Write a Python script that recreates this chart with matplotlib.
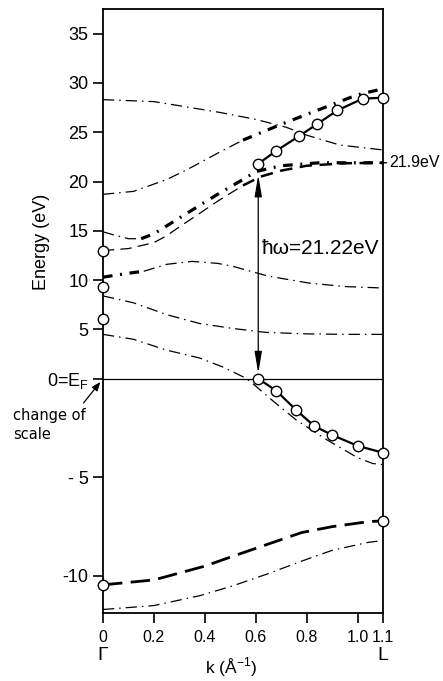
"""Cu band structure along Gamma-L with photoemission points (change of scale at E_F)"""

import numpy as np
import matplotlib
matplotlib.use("Agg")
import matplotlib.pyplot as plt
from matplotlib import font_manager

names = {f.name for f in font_manager.fontManager.ttflist}
FONT = "Liberation Sans Narrow" if "Liberation Sans Narrow" in names else "Liberation Sans"
plt.rcParams["font.family"] = [FONT, "DejaVu Sans"]

# ── data (k in 1/Å, E in eV) ──
k_d1 = [0, 0.2, 0.32, 0.46, 0.6, 0.72, 0.8, 0.93, 1.1]
e_d1 = [28.3, 28.1, 27.6, 27.0, 26.3, 25.5, 24.7, 23.7, 23.2]

k_a = [0, 0.12, 0.25, 0.33, 0.46, 0.55, 0.7, 0.8, 0.9, 1.0, 1.1]
e_a = [18.7, 19.0, 20.2, 21.2, 23.0, 24.2, 25.8, 26.8, 27.8, 28.8, 29.4]

k_b = [0, 0.04, 0.1, 0.15, 0.2, 0.25, 0.3, 0.35, 0.4, 0.45, 0.55, 0.6, 0.7, 0.85, 1.1]
e_b = [14.9, 14.6, 14.2, 14.2, 14.7, 15.5, 16.3, 17.1, 17.9, 18.7, 20.2, 21.0, 21.6, 21.9, 21.9]

k_c = [0, 0.1, 0.2, 0.25, 0.3, 0.37, 0.45, 0.55, 0.62, 0.7, 0.8, 0.95, 1.1]
e_c = [13.0, 13.2, 13.8, 14.5, 15.4, 16.6, 18.0, 19.6, 20.5, 21.1, 21.6, 21.85, 21.9]

k_d = [0, 0.1, 0.16, 0.25, 0.35, 0.45, 0.51, 0.65, 0.81, 0.95, 1.1]
e_d = [10.3, 10.7, 10.9, 11.6, 11.9, 11.7, 11.4, 10.4, 9.7, 9.35, 9.2]

k_e = [0, 0.12, 0.25, 0.38, 0.51, 0.64, 0.8, 0.95, 1.1]
e_e = [8.4, 7.7, 6.5, 5.6, 5.1, 4.7, 4.55, 4.5, 4.5]

k_f = [0, 0.12, 0.25, 0.38, 0.47, 0.55, 0.58, 0.67, 0.76, 0.88, 1.0, 1.06, 1.1]
e_f = [4.5, 4.0, 2.9, 2.1, 1.2, 0.2, -0.15, -1.15, -2.1, -3.1, -4.0, -4.3, -4.35]

k_g = [0, 0.2, 0.4, 0.51, 0.645, 0.78, 0.9, 1.04, 1.1]
e_g = [-10.45, -10.2, -9.5, -9.0, -8.4, -7.8, -7.5, -7.25, -7.2]

k_h = [0, 0.2, 0.38, 0.51, 0.645, 0.78, 0.9, 1.04, 1.1]
e_h = [-11.7, -11.5, -11.0, -10.5, -9.9, -9.25, -8.7, -8.3, -8.2]

# experimental points
k_exp_hi = [0.61, 0.68, 0.77, 0.84, 0.92, 1.02, 1.1]
e_exp_hi = [21.8, 23.1, 24.6, 25.8, 27.2, 28.4, 28.5]
k_exp_lo = [0.61, 0.68, 0.76, 0.83, 0.9, 1.0, 1.1]
e_exp_lo = [0.0, -0.6, -1.6, -2.4, -2.85, -3.4, -3.75]
e_gamma = [13.0, 9.3, 6.1, -10.45]
e_L = [-7.2]

hw = 21.22
e_final = 21.9
k_arrow = 0.61

yticks = [35, 30, 25, 20, 15, 10, 5, 0, -5, -10]
ytick_labels = ["35", "30", "25", "20", "15", "10", "5",
                r"0=E$_\mathregular{F}$", "- 5", "-10"]
xticks = [0, 0.2, 0.4, 0.6, 0.8, 1.0, 1.1]
xtick_labels = ["0", "0.2", "0.4", "0.6", "0.8", "1.0", "1.1"]


def sc(e):
    # change of scale: below E_F the energy axis is stretched x2
    e = np.asarray(e, float)
    return np.where(e < 0, 2 * e, e)


def part(k, e, lo, hi):
    k = np.asarray(k, float)
    m = (k >= lo) & (k <= hi)
    return k[m], sc(np.asarray(e)[m])


DD_THIN = (0, (9, 4, 1.2, 4))
DD_THICK = (0, (3, 2.4, 0.6, 2.4))

fig = plt.figure(figsize=(4.43, 6.81), dpi=100)
ax = fig.add_axes([0.2325, 0.0999, 0.632, 0.887])

ax.plot(k_d1, sc(e_d1), color="k", lw=0.9, ls=DD_THIN)
ax.plot(*part(k_a, e_a, 0, 0.55), color="k", lw=0.9, ls=DD_THIN)
ax.plot(*part(k_a, e_a, 0.55, 1.1), color="k", lw=2.3, ls=DD_THICK)
ax.plot(*part(k_b, e_b, 0, 0.15), color="k", lw=0.9, ls=DD_THIN)
ax.plot(*part(k_b, e_b, 0.15, 1.1), color="k", lw=2.3, ls=DD_THICK)
ax.plot(*part(k_c, e_c, 0, 0.55), color="k", lw=0.9, ls=(0, (9, 5)))
ax.plot(*part(k_c, e_c, 0.55, 1.1), color="k", lw=1.8, ls=(0, (5, 3)))
ax.plot(*part(k_d, e_d, 0, 0.16), color="k", lw=2.3, ls=DD_THICK)
ax.plot(*part(k_d, e_d, 0.16, 1.1), color="k", lw=0.9, ls=DD_THIN)
ax.plot(k_e, sc(e_e), color="k", lw=0.9, ls=DD_THIN)
ax.plot(k_f, sc(e_f), color="k", lw=0.9, ls=DD_THIN)
ax.plot(k_g, sc(e_g), color="k", lw=2.0, ls=(0, (7, 3)))
ax.plot(k_h, sc(e_h), color="k", lw=0.9, ls=DD_THIN)

ax.axhline(0, color="k", lw=0.9)

mk = dict(marker="o", ms=7.5, mfc="white", mec="k", mew=1.0, zorder=5, clip_on=False)
ax.plot(k_exp_hi, sc(e_exp_hi), color="k", lw=1.6, **mk)
ax.plot(k_exp_lo, sc(e_exp_lo), color="k", lw=1.6, **mk)
ax.plot(np.zeros(len(e_gamma)), sc(e_gamma), ls="none", **mk)
ax.plot(np.full(len(e_L), 1.1), sc(e_L), ls="none", **mk)

ax.annotate("", xy=(k_arrow, hw), xytext=(k_arrow, 0),
            arrowprops=dict(arrowstyle="<|-|>,head_length=1.3,head_width=0.22",
                            color="k", lw=0.9, shrinkA=4, shrinkB=4))
ax.text(0.625, 13.2, f"ħω={hw}eV", fontsize=15, ha="left", va="center")
ax.annotate(f"{e_final}eV", xy=(1.1, e_final), xytext=(4.5, 0),
            textcoords="offset points", fontsize=11.5, ha="left", va="center",
            annotation_clip=False,
            arrowprops=dict(arrowstyle="-", color="k", lw=1.0, shrinkA=0, shrinkB=0))

ax.annotate("change of\nscale", xy=(0, 0), xytext=(-65, -21), textcoords="offset points",
            fontsize=10.5, family="DejaVu Sans", ha="left", va="top", linespacing=1.35,
            annotation_clip=False,
            arrowprops=dict(arrowstyle="-|>,head_length=0.5,head_width=0.2", color="k",
                            lw=0.9, relpos=(0.92, 1.0), shrinkA=2, shrinkB=3))

ax.set_xlim(0, 1.1)
ax.set_ylim(-23.75, 37.5)
ax.set_yticks(sc(yticks))
ax.set_yticklabels(ytick_labels)
ax.set_xticks(xticks)
ax.set_xticklabels(xtick_labels)
ax.tick_params(axis="y", direction="out", length=7, width=1.2, pad=3.5, labelsize=13)
ax.tick_params(axis="x", direction="out", length=7, width=1.2, pad=5, labelsize=11.5)
for s in ax.spines.values():
    s.set_linewidth(1.3)

ax.text(0, -0.07, "Γ", transform=ax.get_xaxis_transform(), fontsize=14,
        ha="center", va="center")
ax.text(1.1, -0.07, "L", transform=ax.get_xaxis_transform(), fontsize=14,
        ha="center", va="center")
ax.text(0.457, -0.109, r"k (Å$^{\mathregular{-1}}$)", transform=ax.transAxes,
        fontsize=12.5, ha="center", va="bottom")
ax.set_ylabel("Energy (eV)", fontsize=13)
ax.yaxis.set_label_coords(-0.19, 0.614)

plt.savefig("out.png", dpi=100)
